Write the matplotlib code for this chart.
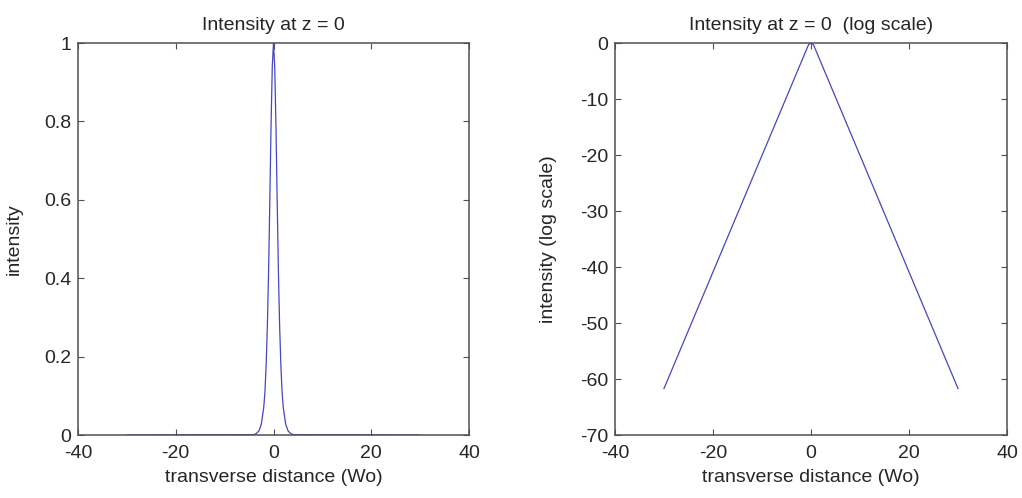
import matplotlib
matplotlib.use("Agg")
import matplotlib.pyplot as plt

# ---- data ----
x_lin = [-30, -4.0, -3.5, -3.0, -2.5, -2.0, -1.75, -1.5, -1.25, -1.0, -0.75, -0.5, -0.25, 0.0,
         0.25, 0.5, 0.75, 1.0, 1.25, 1.5, 1.75, 2.0, 2.5, 3.0, 3.5, 4.0, 30]
intensity = [0.0, 0.001, 0.004, 0.01, 0.027, 0.07, 0.11, 0.18, 0.28, 0.42, 0.60, 0.79, 0.94, 1.0,
             0.94, 0.79, 0.60, 0.42, 0.28, 0.18, 0.11, 0.07, 0.027, 0.01, 0.004, 0.001, 0.0]

x_log = [-30, -0.5, 0.0, 0.5, 30]
intensity_log = [-61.7, -0.3, 0.0, -0.3, -61.7]

x_ticks = [-40, -20, 0, 20, 40]
y_ticks_lin = [0, 0.2, 0.4, 0.6, 0.8, 1]
y_tick_labels_lin = ["0", "0.2", "0.4", "0.6", "0.8", "1"]
y_ticks_log = [0, -10, -20, -30, -40, -50, -60, -70]

titles = ["Intensity at z = 0", "Intensity at z = 0  (log scale)"]
xlabel = "transverse distance (Wo)"
ylabels = ["intensity", "intensity (log scale)"]

# ---- style ----
plt.rcParams['font.family'] = ['Liberation Sans', 'DejaVu Sans']
plt.rcParams['axes.unicode_minus'] = False
FS = 14
text_color = '#262626'
line_color = '#4646c0'
frame_color = '#505050'

fig = plt.figure(figsize=(10.22, 4.98), dpi=100)
ax1 = fig.add_axes([78 / 1022, 63 / 498, 391 / 1022, 392 / 498])
ax2 = fig.add_axes([615 / 1022, 63 / 498, 392 / 1022, 392 / 498])

def style(ax):
    for s in ax.spines.values():
        s.set_color(frame_color)
        s.set_linewidth(1.1)
        s.set_zorder(3)
    ax.tick_params(axis='both', direction='in', top=True, right=True, length=4,
                   color=frame_color, labelcolor=text_color, labelsize=FS)
    ax.tick_params(axis='x', pad=7)
    ax.tick_params(axis='y', pad=5)

ax1.plot(x_lin, intensity, color=line_color, linewidth=0.9, zorder=2)
ax1.set_xlim(-40, 40)
ax1.set_ylim(0, 1)
ax1.set_xticks(x_ticks)
ax1.set_yticks(y_ticks_lin)
ax1.set_yticklabels(y_tick_labels_lin)
ax1.set_title(titles[0], color=text_color, fontsize=FS, pad=9)
ax1.set_xlabel(xlabel, color=text_color, fontsize=FS)
ax1.set_ylabel(ylabels[0], color=text_color, fontsize=FS)
ax1.yaxis.set_label_coords(-0.141, 0.5)
ax1.xaxis.set_label_coords(0.5, -0.088)
style(ax1)

ax2.plot(x_log, intensity_log, color=line_color, linewidth=0.9, zorder=2)
ax2.set_xlim(-40, 40)
ax2.set_ylim(-70, 0)
ax2.set_xticks(x_ticks)
ax2.set_yticks(y_ticks_log)
ax2.set_title(titles[1], color=text_color, fontsize=FS, pad=9)
ax2.set_xlabel(xlabel, color=text_color, fontsize=FS)
ax2.set_ylabel(ylabels[1], color=text_color, fontsize=FS)
ax2.yaxis.set_label_coords(-0.148, 0.5)
ax2.xaxis.set_label_coords(0.5, -0.088)
style(ax2)

fig.savefig("out.png", dpi=100, facecolor='white')
